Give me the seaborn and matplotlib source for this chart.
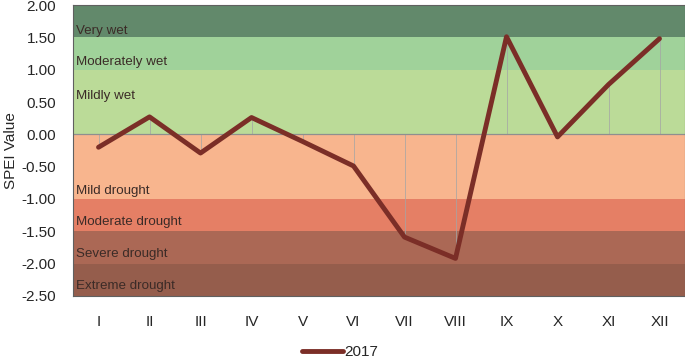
import numpy as np
import pandas as pd
import matplotlib
matplotlib.use("Agg")
import matplotlib.pyplot as plt
import seaborn as sns

months = ["I", "II", "III", "IV", "V", "VI", "VII", "VIII", "IX", "X", "XI", "XII"]
spei_2017 = [-0.20, 0.27, -0.29, 0.26, -0.11, -0.49, -1.59, -1.92, 1.51, -0.04, 0.77, 1.48]

# SPEI classes (lower, upper, label, colour)
band_low = [1.5, 1.0, 0.0, -1.0, -1.5, -2.0, -2.5]
band_high = [2.0, 1.5, 1.0, 0.0, -1.0, -1.5, -2.0]
band_names = ["Very wet", "Moderately wet", "Mildly wet", "Mild drought",
              "Moderate drought", "Severe drought", "Extreme drought"]
band_colors = ["#62896b", "#a0d29a", "#bbdb98", "#f8b58e", "#e57f65", "#ab6855", "#955d4c"]
label_y = [1.6, 1.12, 0.6, -0.87, -1.35, -1.85, -2.35]

sns.set_theme(style="white")
plt.rcParams["font.family"] = ["Liberation Sans", "DejaVu Sans"]

df = pd.DataFrame({"month": months, "SPEI": spei_2017})

fig = plt.figure(figsize=(6.85, 3.6), dpi=100)
ax = fig.add_axes([0.1066, 0.178, 0.8934, 0.808])

for lo, hi, c in zip(band_low, band_high, band_colors):
    ax.axhspan(lo, hi, color=c, lw=0, zorder=0)
for name, y in zip(band_names, label_y):
    ax.text(0.005, y, name, transform=ax.get_yaxis_transform(), fontsize=9.6,
            color="#3b2b27", va="center", ha="left", zorder=3)

# drop lines from zero to each monthly value
ax.vlines(range(len(months)), 0, spei_2017, color="#a5a5a5", lw=0.7, alpha=0.75, zorder=1)
ax.axhline(0, color="#8f8f8f", lw=0.9, zorder=1)

sns.lineplot(data=df, x="month", y="SPEI", sort=False, color="#7b2e27", lw=3.5,
             ax=ax, label="2017", zorder=4, legend=False)

ax.set_xlim(-0.5, 11.5)
ax.set_ylim(-2.5, 2.0)
ax.set_yticks(np.arange(-2.5, 2.01, 0.5))
ax.set_yticklabels([f"{v:.2f}" for v in np.arange(-2.5, 2.01, 0.5)], fontsize=11)
ax.tick_params(axis="x", labelsize=11, pad=14, length=0)
ax.tick_params(axis="y", length=0, pad=12)
ax.set_xlabel("")
ax.set_ylabel("SPEI Value", fontsize=11, labelpad=3)
for s in ax.spines.values():
    s.set_color("#606060")
    s.set_linewidth(0.8)

handles, labels = ax.get_legend_handles_labels()
fig.legend(handles, labels, loc="center", bbox_to_anchor=(340 / 685, 0.022), frameon=False,
           fontsize=11, handlelength=2.7, handletextpad=0.05, borderpad=0)

fig.savefig("out.png", dpi=100)
